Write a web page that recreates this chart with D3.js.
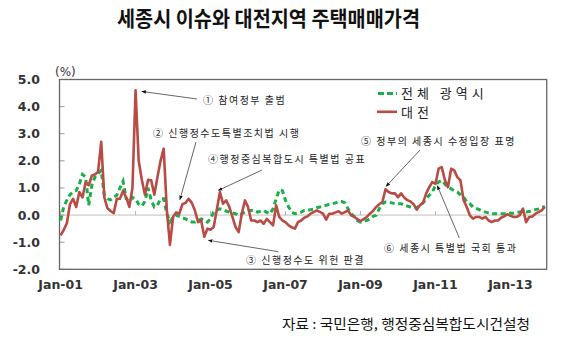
<!DOCTYPE html>
<html><head><meta charset="utf-8">
<script src="https://cdn.jsdelivr.net/npm/d3@7"></script>
<style>body{margin:0;background:#fff}svg{display:block}</style>
</head><body><svg id="c" width="573" height="343"></svg>
<script>
const title = "세종시 이슈와 대전지역 주택매매가격";
const source = "자료 : 국민은행, 행정중심복합도시건설청";
const seriesNames = ["전체 광역시", "대전"];
const unitLabel = "(%)";
const xTickLabels = ["Jan-01","Jan-03","Jan-05","Jan-07","Jan-09","Jan-11","Jan-13"];
const xTickMonths = [0,24,48,72,96,120,144];
const yTicks = [5,4,3,2,1,0,-1,-2];
// monthly change, Jan 2001 .. Dec 2013
const metro = [
 -0.2,0.3,0.55,0.75,0.85,0.9,1.15,1.5,1.4,0.36,1.1,1.4,
 1.53,1.65,0.73,0.6,0.56,0.67,0.73,1.0,1.25,0.6,0.5,0.65,
 0.6,0.4,0.33,0.5,1.0,0.55,0.3,0.36,0.6,0.6,0.05,-0.25,
 -0.07,0.0,-0.05,-0.1,-0.14,-0.2,-0.26,-0.26,-0.2,-0.14,-0.2,-0.26,
 -0.14,0.11,0.18,0.23,0.2,0.15,0.11,0.08,0.05,-0.02,0.05,0.11,
 0.17,0.17,0.17,0.11,0.14,0.17,0.1,0.05,0.23,0.6,0.93,0.9,
 0.54,0.3,0.11,0.05,0.08,0.11,0.17,0.17,0.2,0.22,0.27,0.3,
 0.33,0.36,0.4,0.42,0.45,0.5,0.5,0.45,0.23,0.05,-0.05,-0.2,
 -0.26,-0.22,-0.2,-0.14,-0.05,-0.01,0.23,0.42,0.48,0.48,0.45,0.42,
 0.42,0.42,0.36,0.33,0.3,0.27,0.27,0.36,0.45,0.6,0.73,0.85,
 1.09,1.22,1.28,1.15,1.03,0.97,0.9,0.85,0.75,0.66,0.5,0.42,
 0.3,0.25,0.2,0.15,0.11,0.08,0.05,0.05,0.05,0.05,0.05,0.05,
 0.07,0.07,0.1,0.11,0.11,0.11,0.13,0.17,0.2,0.23,0.28,0.32
];
const daejeon = [
 -0.75,-0.55,-0.3,0.4,0.6,0.3,0.85,0.65,1.2,1.1,1.45,1.5,
 1.6,2.7,0.65,0.25,0.15,0.07,0.6,0.6,0.9,0.65,0.3,1.0,
 4.6,2.0,1.3,0.75,1.3,1.28,0.75,1.4,2.0,2.45,0.2,-1.1,
 -0.07,0.1,0.05,0.4,0.45,0.6,0.45,0.17,-0.26,-0.2,-0.8,-0.5,
 -0.54,-0.44,0.2,0.85,0.42,0.54,0.3,-0.07,-0.44,-0.63,0.05,0.54,
 0.3,-0.2,-0.2,-0.26,-0.2,-0.32,-0.14,-0.26,-0.38,0.36,-0.07,-0.2,
 -0.26,-0.38,-0.45,-0.5,-0.26,-0.2,-0.1,-0.05,0.05,0.11,0.17,0.12,
 0.05,-0.17,0.05,0.05,0.1,0.14,0.05,0.11,0.17,-0.01,-0.07,-0.15,
 -0.22,-0.15,-0.07,0.05,0.15,0.3,0.4,0.48,0.95,0.85,0.8,0.8,
 0.66,0.8,0.65,0.55,0.5,0.4,0.2,0.36,0.45,0.79,1.03,1.22,
 1.15,1.71,1.77,1.3,1.03,1.71,1.65,1.4,1.28,0.55,0.3,-0.01,
 -0.13,-0.07,-0.07,-0.13,-0.07,-0.2,-0.26,-0.2,-0.2,-0.1,-0.05,0.03,
 -0.03,-0.07,-0.07,0.0,0.24,-0.26,-0.07,-0.05,0.05,0.11,0.17,0.3
];
const eventLabels = ["① 참여정부 출범","② 신행정수도특별조치법 시행","④행정중심복합도시 특별법 공표","③ 신행정수도 위헌 판결","⑤ 정부의 세종시 수정입장 표명","⑥ 세종시 특별법 국회 통과"];
const eventMonths = [26, 38.2, 50.5, 47.3, 104.2, 120.6];
const eventValues = [4.56, 0.57, 0.91, -0.93, 1.06, 1.08];

const svg = d3.select("#c");
const W = 573, H = 343;
const L = 59.5, R = 546.7, T = 79.5, B = 269.3;
const x = d3.scaleLinear().domain([-0.35, 155.6]).range([L, R]);
const y = d3.scaleLinear().domain([-2, 5]).range([B, T]);

svg.append("rect").attr("width", W).attr("height", H).attr("fill", "#fff");

// title
svg.append("text").attr("x", 268.5).attr("y", 26).attr("text-anchor", "middle")
  .attr("font-family", "'Noto Sans CJK KR'").attr("font-weight", "bold").attr("font-size", 21)
  .attr("textLength", 303).attr("lengthAdjust", "spacingAndGlyphs")
  .attr("fill", "#111").text(title);

// zero line
svg.append("line").attr("x1", L).attr("x2", R).attr("y1", y(0)).attr("y2", y(0))
  .attr("stroke", "#c0c0c0").attr("stroke-width", 1);
svg.selectAll(".zt").data(xTickMonths).join("line")
  .attr("x1", d => x(d)).attr("x2", d => x(d)).attr("y1", y(0)).attr("y2", y(0) - 4)
  .attr("stroke", "#b0b0b0").attr("stroke-width", 1);

// y inner ticks
svg.selectAll(".yt").data(yTicks).join("line")
  .attr("x1", L).attr("x2", L + 5).attr("y1", d => y(d)).attr("y2", d => y(d))
  .attr("stroke", "#999").attr("stroke-width", 1);

// border
svg.append("rect").attr("x", L).attr("y", T).attr("width", R - L).attr("height", B - T)
  .attr("fill", "none").attr("stroke", "#666").attr("stroke-width", 1.3);

// y labels
svg.selectAll(".yl").data(yTicks).join("text")
  .attr("x", 40).attr("y", d => y(d) + 4.5).attr("text-anchor", "end")
  .attr("font-family", "'DejaVu Sans'").attr("font-weight", "bold").attr("font-size", 12.5)
  .attr("fill", "#333").text(d => d.toFixed(1));
svg.append("text").attr("x", 55).attr("y", 76).attr("font-family", "'DejaVu Sans'")
  .attr("font-size", 12).attr("fill", "#333").text(unitLabel);

// x labels
svg.selectAll(".xl").data(xTickMonths).join("text")
  .attr("x", d => x(d)).attr("y", 289).attr("text-anchor", "middle")
  .attr("font-family", "'DejaVu Sans'").attr("font-weight", "bold").attr("font-size", 12.5)
  .attr("fill", "#333").text((d, i) => xTickLabels[i]);

// lines
const line = d3.line().x((d, i) => x(i)).y(d => y(d));
svg.append("path").datum(metro).attr("d", line).attr("fill", "none")
  .attr("stroke", "#19b04a").attr("stroke-width", 3).attr("stroke-dasharray", "5,3.5");
svg.append("path").datum(daejeon).attr("d", line).attr("fill", "none")
  .attr("stroke", "#b94a44").attr("stroke-width", 2.6).attr("stroke-linejoin", "round");

// legend
const lg = svg.append("g");
lg.append("line").attr("x1", 378).attr("x2", 397).attr("y1", 93.5).attr("y2", 93.5)
  .attr("stroke", "#19b04a").attr("stroke-width", 3).attr("stroke-dasharray", "6,3");
lg.append("line").attr("x1", 377).attr("x2", 397).attr("y1", 111.8).attr("y2", 111.8)
  .attr("stroke", "#b94a44").attr("stroke-width", 2.6);
lg.selectAll("text").data(seriesNames).join("text")
  .attr("x", 401).attr("y", (d, i) => 98 + i * 18.5)
  .attr("font-family", "'Noto Sans CJK KR'").attr("font-size", 13).attr("letter-spacing", 4)
  .attr("fill", "#222").text(d => d);

// annotations
const defs = svg.append("defs");
defs.append("marker").attr("id", "ah").attr("viewBox", "0 0 10 10").attr("refX", 9).attr("refY", 5)
  .attr("markerWidth", 5).attr("markerHeight", 5).attr("orient", "auto-start-reverse")
  .append("path").attr("d", "M0,1 L10,5 L0,9 Z").attr("fill", "#111");
const tails = [[197, 99], [196, 142], [262, 170], [278.3, 251.7], [420, 150], [459.3, 238]];
const textPos = [[203, 104], [153, 136.5], [208, 163], [246, 264], [361, 145], [384, 251.5]];
eventLabels.forEach((lab, i) => {
  svg.append("line").attr("x1", tails[i][0]).attr("y1", tails[i][1])
    .attr("x2", x(eventMonths[i])).attr("y2", y(eventValues[i]))
    .attr("stroke", "#555").attr("stroke-width", 0.9).attr("marker-end", "url(#ah)");
  svg.append("text").attr("x", textPos[i][0]).attr("y", textPos[i][1])
    .attr("font-family", "'Noto Sans CJK KR'").attr("font-size", 10).attr("letter-spacing", 1.5)
    .attr("fill", "#222").text(lab);
});

// source
svg.append("text").attr("x", 282).attr("y", 329)
  .attr("font-family", "'Noto Sans CJK KR'").attr("font-size", 13.5)
  .attr("textLength", 248).attr("lengthAdjust", "spacingAndGlyphs")
  .attr("fill", "#111").text(source);
</script></body></html>
